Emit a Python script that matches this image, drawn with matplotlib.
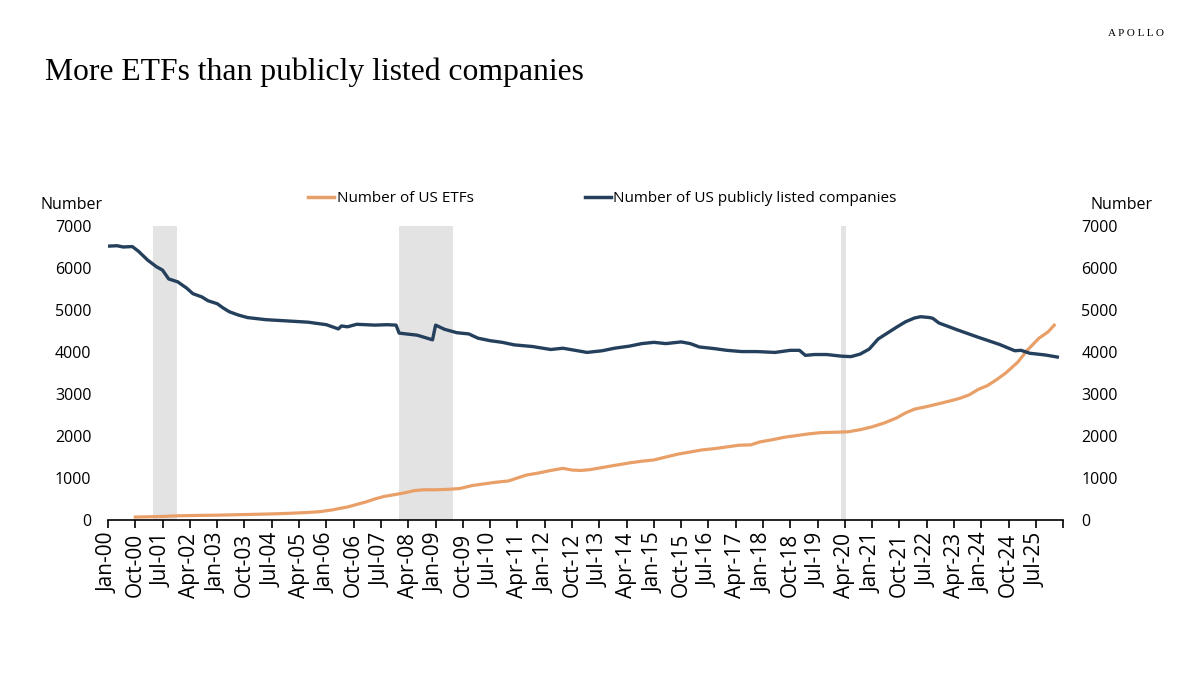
import pandas as pd
import matplotlib
matplotlib.use("Agg")
import matplotlib.pyplot as plt
from matplotlib.lines import Line2D


# =========================
# Data
# =========================

company_dates = [
    "2000-01", "2000-04", "2000-06", "2000-09", "2000-11", "2001-02", "2001-05",
    "2001-07", "2001-09", "2001-12", "2002-03", "2002-05", "2002-08", "2002-10",
    "2003-01", "2003-03", "2003-05", "2003-08", "2003-11", "2004-05", "2004-12",
    "2005-07", "2006-01", "2006-03", "2006-05", "2006-06", "2006-08", "2006-11",
    "2007-05", "2007-09", "2007-12", "2008-01", "2008-07", "2008-12", "2009-01",
    "2009-04", "2009-08", "2009-12", "2010-03", "2010-07", "2010-11", "2011-03",
    "2011-09", "2012-03", "2012-07", "2012-11", "2013-03", "2013-08", "2013-12",
    "2014-05", "2014-09", "2015-01", "2015-05", "2015-10", "2016-01", "2016-04",
    "2016-09", "2017-01", "2017-06", "2017-11", "2018-05", "2018-10", "2019-01",
    "2019-03", "2019-06", "2019-10", "2020-03", "2020-06", "2020-09", "2020-12",
    "2021-03", "2021-06", "2021-09", "2021-12", "2022-03", "2022-05", "2022-08",
    "2022-09", "2022-11", "2023-05", "2023-12", "2024-07", "2024-12", "2025-02",
    "2025-05", "2025-10", "2026-02",
]
companies = [
    6520, 6530, 6500, 6510, 6400, 6190, 6030,
    5950, 5740, 5670, 5520, 5390, 5310, 5220,
    5150, 5050, 4960, 4880, 4820, 4770, 4740,
    4710, 4650, 4600, 4550, 4620, 4600, 4660,
    4640, 4650, 4640, 4450, 4400, 4290, 4640,
    4540, 4460, 4430, 4330, 4270, 4230, 4170,
    4130, 4060, 4090, 4040, 3990, 4030, 4090,
    4140, 4200, 4230, 4200, 4240, 4200, 4120,
    4080, 4040, 4010, 4010, 3990, 4040, 4040,
    3920, 3940, 3940, 3900, 3890, 3950, 4070,
    4310, 4450, 4590, 4720, 4810, 4840, 4820,
    4800, 4690, 4530, 4350, 4180, 4030, 4040,
    3970, 3930, 3880,
]

etf_dates = [
    "2000-10", "2001-01", "2001-07", "2001-12", "2002-07", "2003-01", "2003-07",
    "2004-01", "2004-07", "2005-01", "2005-07", "2005-11", "2006-03", "2006-05",
    "2006-08", "2006-11", "2007-02", "2007-05", "2007-08", "2007-12", "2008-03",
    "2008-06", "2008-09", "2009-01", "2009-05", "2009-09", "2010-01", "2010-05",
    "2010-09", "2011-01", "2011-04", "2011-07", "2011-11", "2012-03", "2012-07",
    "2012-10", "2013-01", "2013-04", "2013-08", "2013-12", "2014-05", "2014-09",
    "2015-01", "2015-05", "2015-09", "2016-01", "2016-05", "2016-09", "2017-01",
    "2017-05", "2017-09", "2017-12", "2018-04", "2018-08", "2018-12", "2019-04",
    "2019-08", "2020-01", "2020-05", "2020-09", "2021-01", "2021-05", "2021-09",
    "2021-12", "2022-03", "2022-07", "2022-11", "2023-03", "2023-06", "2023-09",
    "2023-12", "2024-03", "2024-06", "2024-09", "2025-01", "2025-04", "2025-08",
    "2025-11", "2026-01",
]
etfs = [
    70, 75, 85, 100, 110, 115, 125,
    135, 145, 160, 180, 200, 240, 270,
    310, 370, 430, 500, 560, 610, 650,
    700, 720, 720, 730, 750, 820, 860,
    900, 930, 1000, 1070, 1120, 1180, 1230,
    1190, 1180, 1200, 1250, 1300, 1360, 1400,
    1430, 1500, 1570, 1620, 1670, 1700, 1740,
    1780, 1790, 1860, 1910, 1970, 2010, 2050,
    2080, 2090, 2100, 2150, 2220, 2310, 2430,
    2550, 2640, 2700, 2770, 2840, 2900, 2980,
    3110, 3200, 3340, 3500, 3760, 4030, 4330,
    4480, 4640,
]

# recessions (start, end)
recession_start = ["2001-04-01", "2008-01-01", "2020-02-25"]
recession_end = ["2001-11-25", "2009-06-25", "2020-04-15"]

y_ticks = [0, 1000, 2000, 3000, 4000, 5000, 6000, 7000]

orange = "#E9A068"
navy = "#24405C"
shade = "#E3E3E3"

plt.rcParams["font.family"] = ["Open Sans", "DejaVu Sans"]

# =========================
# Figure
# =========================

fig = plt.figure(figsize=(12, 6.75), dpi=100)
ax = fig.add_axes([0.09, 0.2296, 0.796, 0.4356])

for s, e in zip(recession_start, recession_end):
    ax.axvspan(pd.Timestamp(s), pd.Timestamp(e), color=shade, lw=0, zorder=0)

ax.plot(pd.to_datetime(etf_dates), etfs, color=orange, lw=2.3, zorder=3)
ax.plot(pd.to_datetime(company_dates), companies, color=navy, lw=2.4, zorder=3)

ax.set_ylim(0, 7000)
ax.set_xlim(pd.Timestamp("2000-01-01"), pd.Timestamp("2026-04-01"))

x_ticks = pd.date_range("2000-01-01", periods=36, freq="9MS")
labels = [d.strftime("%b-%y") for d in x_ticks]
labels[-1] = ""
ax.set_xticks(x_ticks)
ax.set_xticklabels(labels, rotation=90, fontsize=15)
ax.tick_params(axis="x", length=6, width=1.2, color="black", pad=3)

ax.set_yticks(y_ticks)
ax.set_yticklabels([str(v) for v in y_ticks], fontsize=11.5)
ax.tick_params(axis="y", length=0, pad=12)

for side in ["top", "left", "right"]:
    ax.spines[side].set_visible(False)
ax.spines["bottom"].set_linewidth(1.2)

ax2 = ax.twinx()
ax2.set_ylim(0, 7000)
ax2.set_yticks(y_ticks)
ax2.set_yticklabels([str(v) for v in y_ticks], fontsize=11.5)
ax2.tick_params(axis="y", length=0, pad=13)
for side in ["top", "left", "right", "bottom"]:
    ax2.spines[side].set_visible(False)

fig.text(0.06, 0.696, "Number", fontsize=11.5, ha="center", va="center")
fig.text(0.935, 0.696, "Number", fontsize=11.5, ha="center", va="center")

handles = [
    Line2D([], [], color=orange, lw=2.5),
    Line2D([], [], color=navy, lw=2.5),
]
fig.legend(
    handles,
    ["Number of US ETFs", "Number of US publicly listed companies"],
    loc="center", bbox_to_anchor=(0.502, 0.706), ncol=2, frameon=False,
    fontsize=11, handlelength=1.7, handletextpad=0.15, columnspacing=7.3,
)

fig.text(0.0375, 0.893, "More ETFs than publicly listed companies",
         fontsize=22.8, family="Liberation Serif", ha="left", va="center")
fig.text(0.97, 0.951, "A P O L L O", fontsize=8, family="Liberation Serif",
         ha="right", va="center")

fig.savefig("out.png", dpi=100)
